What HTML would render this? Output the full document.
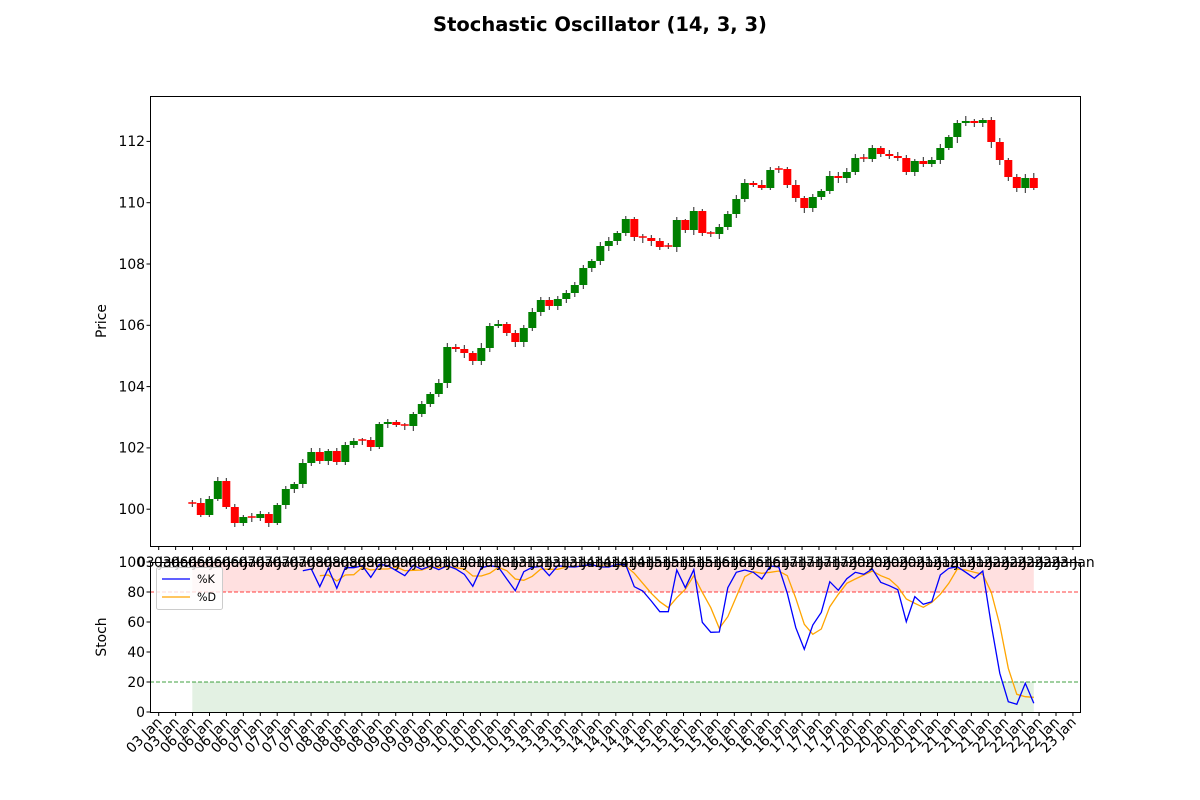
<!DOCTYPE html>
<html><head><meta charset="utf-8"><style>
html,body{margin:0;padding:0;background:#fff;width:1200px;height:800px;overflow:hidden}
svg{font-family:"DejaVu Sans","Liberation Sans",sans-serif}
</style></head><body>
<svg id="s" width="1200" height="800" viewBox="0 0 1200 800" xmlns="http://www.w3.org/2000/svg">
<rect width="1200" height="800" fill="#fff"/>
<text x="600" y="31" text-anchor="middle" font-size="19.5" font-weight="bold">Stochastic Oscillator (14, 3, 3)</text>
<g id="fills"></g>
<g id="candles"></g>
<g id="lines"></g>
<rect x="150.5" y="96.5" width="930" height="450" fill="none" stroke="#000" stroke-width="1"/>
<rect x="150.5" y="562.5" width="930" height="150" fill="none" stroke="#000" stroke-width="1"/>
<g id="ticks"></g>
<g font-size="13.9" text-anchor="end">
<text x="145" y="514">100</text><text x="145" y="452.7">102</text><text x="145" y="391.4">104</text>
<text x="145" y="330.1">106</text><text x="145" y="268.8">108</text><text x="145" y="207.5">110</text><text x="145" y="146.2">112</text>
<text x="145" y="717">0</text><text x="145" y="687">20</text><text x="145" y="657">40</text>
<text x="145" y="627">60</text><text x="145" y="597">80</text><text x="145" y="567">100</text>
</g>
<text transform="translate(106,321) rotate(-90)" text-anchor="middle" font-size="13.9">Price</text>
<text transform="translate(106,637) rotate(-90)" text-anchor="middle" font-size="13.9">Stoch</text>
<g id="toplab" font-size="13.9" text-anchor="middle">
<text>03 Jan</text><text>03 Jan</text><text>06 Jan</text><text>06 Jan</text><text>06 Jan</text><text>06 Jan</text><text>07 Jan</text><text>07 Jan</text><text>07 Jan</text><text>07 Jan</text><text>08 Jan</text><text>08 Jan</text><text>08 Jan</text><text>08 Jan</text><text>09 Jan</text><text>09 Jan</text><text>09 Jan</text><text>09 Jan</text><text>10 Jan</text><text>10 Jan</text><text>10 Jan</text><text>10 Jan</text><text>13 Jan</text><text>13 Jan</text><text>13 Jan</text><text>13 Jan</text><text>14 Jan</text><text>14 Jan</text><text>14 Jan</text><text>14 Jan</text><text>15 Jan</text><text>15 Jan</text><text>15 Jan</text><text>15 Jan</text><text>16 Jan</text><text>16 Jan</text><text>16 Jan</text><text>16 Jan</text><text>17 Jan</text><text>17 Jan</text><text>17 Jan</text><text>17 Jan</text><text>20 Jan</text><text>20 Jan</text><text>20 Jan</text><text>20 Jan</text><text>21 Jan</text><text>21 Jan</text><text>21 Jan</text><text>21 Jan</text><text>22 Jan</text><text>22 Jan</text><text>22 Jan</text><text>22 Jan</text><text>23 Jan</text>
</g>
<g id="botlab" font-size="13.9" text-anchor="end">
<text>03 Jan</text><text>03 Jan</text><text>06 Jan</text><text>06 Jan</text><text>06 Jan</text><text>06 Jan</text><text>07 Jan</text><text>07 Jan</text><text>07 Jan</text><text>07 Jan</text><text>08 Jan</text><text>08 Jan</text><text>08 Jan</text><text>08 Jan</text><text>09 Jan</text><text>09 Jan</text><text>09 Jan</text><text>09 Jan</text><text>10 Jan</text><text>10 Jan</text><text>10 Jan</text><text>10 Jan</text><text>13 Jan</text><text>13 Jan</text><text>13 Jan</text><text>13 Jan</text><text>14 Jan</text><text>14 Jan</text><text>14 Jan</text><text>14 Jan</text><text>15 Jan</text><text>15 Jan</text><text>15 Jan</text><text>15 Jan</text><text>16 Jan</text><text>16 Jan</text><text>16 Jan</text><text>16 Jan</text><text>17 Jan</text><text>17 Jan</text><text>17 Jan</text><text>17 Jan</text><text>20 Jan</text><text>20 Jan</text><text>20 Jan</text><text>20 Jan</text><text>21 Jan</text><text>21 Jan</text><text>21 Jan</text><text>21 Jan</text><text>22 Jan</text><text>22 Jan</text><text>22 Jan</text><text>22 Jan</text><text>23 Jan</text>
</g>
<rect x="156.5" y="567.5" width="66" height="42" rx="2" fill="#fff" fill-opacity="0.8" stroke="#ccc"/>
<line x1="162" y1="579" x2="190" y2="579" stroke="#00f" stroke-width="1.3"/>
<line x1="162" y1="597" x2="190" y2="597" stroke="orange" stroke-width="1.3"/>
<text x="197" y="583" font-size="11.1">%K</text>
<text x="197" y="601" font-size="11.1">%D</text>
</svg>
<script>
var NS="http://www.w3.org/2000/svg";
function el(p,n,a){var e=document.createElementNS(NS,n);for(var k in a)e.setAttribute(k,a[k]);p.appendChild(e);return e;}
function X(i){return 192.3+8.5*i;}
var C=[[503,503,500,507],[503,515,498,517],[515,499,496,517],[499,481,477,501],[481,507,478,509],[507,523,504,527],[523,517,515,526],[517,517,513,522],[518,514,511,521],[514,523,512,527],
[523,505,503,525],[505,489,486,509],[489,484,482,493],[484,463,459,488],[463,452,448,466],[452,461,448,464],[461,451,449,465],[451,462,448,465],[462,445,442,465],[445,441,438,448],
[440,440,438,445],[440,447,437,451],[447,424,422,449],[424,422,419,428],[422,425,420,427],[425,425,423,430],[426,414,412,431],[414,404,401,417],[404,394,392,407],[394,383,379,397],
[383,347,343,388],[347,349,344,352],[349,353,345,358],[353,361,351,365],[361,348,343,365],[348,326,323,352],[326,324,320,328],[324,333,322,336],[333,342,330,347],[342,328,325,347],
[328,312,308,331],[312,300,297,316],[300,306,297,310],[306,299,296,310],[299,293,290,303],[293,285,282,297],[285,268,265,289],[268,261,259,272],[261,246,242,265],[246,241,237,251],
[241,233,231,245],[233,219,216,236],[219,237,217,241],[237,237,234,243],[238,241,235,246],[241,247,238,250],[246,246,243,249],[247,220,217,252],[220,230,219,233],[230,211,207,235],
[211,233,209,236],[233,233,231,237],[234,227,224,239],[227,214,211,230],[214,199,195,218],[199,183,179,202],[183,185,181,187],[185,188,180,190],[188,170,167,190],[169,169,166,173],
[169,185,167,188],[185,198,180,202],[198,208,196,213],[208,197,194,212],[197,191,189,200],[191,176,171,194],[176,178,172,183],[178,172,168,183],[172,158,154,175],[158,158,154,162],
[159,148,145,162],[148,154,146,157],[154,156,150,159],[156,158,152,161],[158,172,155,175],[172,161,159,176],[161,164,157,167],[164,160,157,167],[160,148,144,164],[148,137,135,150],
[137,123,120,143],[123,121,116,126],[121,123,119,127],[123,120,118,127],[120,142,117,148],[142,160,138,165],[160,177,158,181],[177,188,174,192],[188,178,174,193],[178,188,173,190]];
var g=document.getElementById('candles');
C.forEach(function(c,i){var x=X(i),col=c[1]<c[0]?'#008000':'#ff0000';
el(g,'line',{x1:x,x2:x,y1:c[2],y2:c[3],stroke:'#222','stroke-width':1});
var t=Math.min(c[0],c[1]),h=Math.abs(c[0]-c[1]);if(h<1.5){t-=0.75;h=1.5;}
el(g,'rect',{x:x-4,y:t,width:8,height:h,fill:col});});
var f=document.getElementById('fills');
el(f,'rect',{x:X(0),y:562.5,width:X(99)-X(0),height:29.5,fill:'#ff0000','fill-opacity':0.12});
el(f,'rect',{x:X(0),y:682,width:X(99)-X(0),height:30,fill:'#008000','fill-opacity':0.11});
var K=[570.7,569,586.7,568.3,588.3,567.7,567.7,565.7,577.3,564.3,565.7,570.7,575.7,565.3,569.3,566,569.7,565.7,569,574.3,586.3,567.7,565.7,567,579,590.7,571.7,567.3,566.3,575.7,565.7,566.7,567,565.7,564.7,567,567,564.3,565,586.7,591,601,611.7,611.7,570,587.7,569.7,622.3,632.3,632,587.7,572.3,570,572.3,579,566,567,593.3,627.7,649.3,625,612.3,581.7,590.3,578.7,572.3,574.3,569,582.3,585.7,589.7,621.7,596.7,604.3,601.7,575,568.3,566.7,572.3,578.3,571,625,673.3,701.7,704.3,683.3,703.3];
var D=[575.7,575,581,575,574.7,567.3,570,569,569,567,570.7,570.3,570,567,567.7,566.7,567.7,569,576,576,573.3,567.3,570.7,579,580.3,576.3,569,569.3,569.3,567,566.7,565.7,565.3,566,566,565.7,566,573.3,583.3,593.3,601.7,607.7,597.7,589.3,575.7,592.3,607.7,628.3,616.7,596.7,576.7,571.7,573.3,572.3,571,575.7,598.3,624.3,634.3,629,606.7,594.3,583.3,579,575,571,575.7,579,586.7,599,603.3,607.3,602.3,594.3,583.3,569,570,572.3,574.3,592.3,625,668.3,694.3,696.7,697.3];
var L=document.getElementById('lines');
el(L,'line',{x1:150,x2:1080,y1:592,y2:592,stroke:'#ff0000','stroke-opacity':0.75,'stroke-width':1,'stroke-dasharray':'4,2'});
el(L,'line',{x1:150,x2:1080,y1:682,y2:682,stroke:'#008000','stroke-opacity':0.75,'stroke-width':1,'stroke-dasharray':'4,2'});
function pl(a,s,col){el(L,'polyline',{points:a.map(function(y,j){return X(j+s)+','+y;}).join(' '),fill:'none',stroke:col,'stroke-width':1.3});}
pl(D,15,'orange');pl(K,13,'#0000ff');
var T=document.getElementById('ticks');
var tl=document.getElementById('toplab').children,bl=document.getElementById('botlab').children;
for(var k=0;k<55;k++){var x=158.7+16.93*k;
el(T,'line',{x1:x,x2:x,y1:546.5,y2:550,stroke:'#000'});
el(T,'line',{x1:x,x2:x,y1:712.5,y2:716,stroke:'#000'});
tl[k].setAttribute('x',x);tl[k].setAttribute('y',567);
bl[k].setAttribute('transform','translate('+(x+4)+',723) rotate(-45)');}
[509.2,447.9,386.6,325.3,264,202.7,141.4,712,682,652,622,592,562].forEach(function(y){el(T,'line',{x1:146.5,x2:150,y1:y,y2:y,stroke:'#000'});});
</script>
</body></html>
